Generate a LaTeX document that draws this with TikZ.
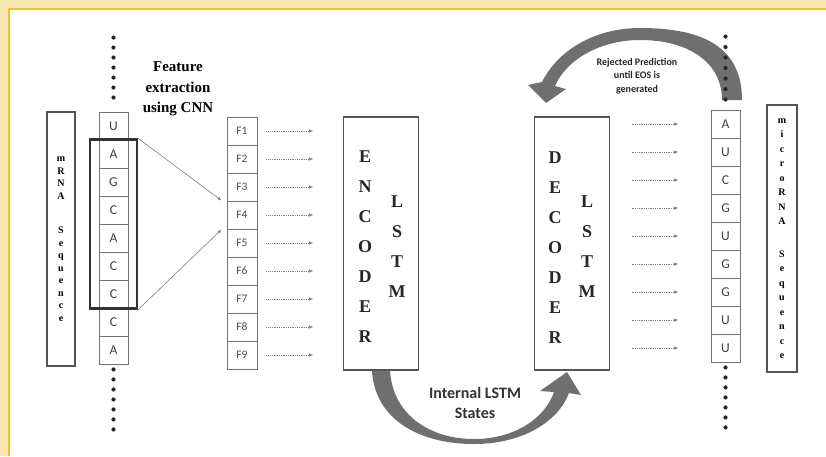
\documentclass[tikz,border=0pt]{standalone}
\usepackage{fontspec}
\setmainfont{Liberation Serif}
\newfontfamily\calibrifont{Carlito}
\usetikzlibrary{arrows.meta,fit}
\definecolor{bgyellow}{HTML}{FCE8B4}
\definecolor{rimorange}{HTML}{F6C41E}
\definecolor{boxgray}{HTML}{555555}
\definecolor{bandgray}{HTML}{6F6F6F}

\begin{document}
\begin{tikzpicture}[x=1pt,y=-1pt,
  cell/.style={draw=black!55,line width=0.9pt,minimum width=29pt,minimum height=28pt,inner sep=0pt,
    font=\calibrifont\fontsize{13.5}{14}\selectfont,text=black!75},
  fcell/.style={cell,minimum width=30pt,font=\calibrifont\fontsize{11.5}{12}\selectfont,text=black!70},
  seqbox/.style={draw=boxgray,line width=1.6pt,inner sep=0pt,align=center},
  lstmbox/.style={draw=boxgray,line width=1.6pt,minimum width=75pt,minimum height=253pt},
  bigletter/.style={inner sep=0pt,font=\bfseries\fontsize{18}{18}\selectfont,text=black!85},
  hlbox/.style={draw=black!80,line width=2.4pt},
  seqdot/.style={fill=black!85},
  dotarrow/.style={black!50,densely dotted,line width=0.8pt,-{Latex[length=4.5pt,width=3.5pt]}},
  thinarrow/.style={gray,line width=0.6pt,-{Latex[length=4pt,width=3pt]}},
  band/.style={fill=bandgray}]
   \useasboundingbox (0,0) rectangle (826,456);
   \fill[bgyellow] (0,0) rectangle (826,456);
   \fill[white] (9,9) rectangle (826,456);
   \draw[rimorange,line width=1.5pt] (9,456) -- (9,9) -- (826,9);
   \node[seqbox,minimum width=28pt,minimum height=254pt,font=\bfseries\fontsize{10}{12.5}\selectfont] (mrna) at (61,239)
     {m\\R\\N\\A\\[22pt]S\\e\\q\\u\\e\\n\\c\\e};
   \node[seqbox,minimum width=30pt,minimum height=267pt,font=\bfseries\fontsize{10}{14.5}\selectfont] (mirna) at (782,238.5)
     {m\\i\\c\\r\\o\\R\\N\\A\\[18pt]S\\e\\q\\u\\e\\n\\c\\e};
   \foreach \t [count=\i] in {U,A,G,C,A,C,C,C,A}
     \node[cell] (l\i) at (113.5,98+28*\i) {\t};
   \foreach \t [count=\i] in {A,U,C,G,U,G,G,U,U}
     \node[cell] (r\i) at (725.5,96+28*\i) {\t};
   \node[hlbox,fit=(l2)(l7),inner xsep=8.5pt,inner ysep=0pt] (hl) {};
   \node[font=\bfseries\fontsize{15}{20.5}\selectfont,align=center] (cnnlabel) at (178,89) {Feature\\extraction\\using CNN};
   \foreach \i in {1,...,9} {
     \node[fcell] (f\i) at (242,103+28*\i) {F\i};
     \draw[dotarrow] ([xshift=9pt]f\i.east) -- ([xshift=56pt]f\i.east);
     \draw[dotarrow] ([xshift=-79pt]r\i.west) -- ([xshift=-32pt]r\i.west);
   }
   \draw[thinarrow] (hl.north east) -- ([xshift=-5pt]f4.north west);
   \draw[thinarrow] (hl.south east) -- ([xshift=-5pt]f4.south west);
   \node[lstmbox] (enc) at (381,243.5) {};
   \node[lstmbox] (dec) at (572,243.5) {};
   \foreach \c [count=\i] in {E,N,C,O,D,E,R}
     \node[bigletter] (encl\i) at (365,127+30*\i) {\c};
   \foreach \c [count=\i] in {L,S,T,M}
     \node[bigletter] (encm\i) at (397,172+30*\i) {\c};
   \foreach \c [count=\i] in {D,E,C,O,D,E,R}
     \node[bigletter] (decl\i) at (555,128+30*\i) {\c};
   \foreach \c [count=\i] in {L,S,T,M}
     \node[bigletter] (decm\i) at (587,172+30*\i) {\c};
   \fill[band] (742,100) .. controls (742,45) and (700,28) .. (640,28)
     .. controls (595,28) and (558,50) .. (542,82) -- (528,85) -- (546,103) -- (566,89) -- (555,86)
     .. controls (566,60) and (600,40) .. (640,40) .. controls (688,40) and (722,62) .. (722,100) -- cycle;
   \fill[band] (372,371) .. controls (375,420) and (420,444) .. (474,444)
     .. controls (522,444) and (558,422) .. (569,393) -- (581,395) -- (567,372) -- (540,391) -- (554,392)
     .. controls (545,418) and (515,439) .. (474,439) .. controls (430,439) and (393,415) .. (390,371) -- cycle;
   \node[font=\calibrifont\bfseries\fontsize{10}{13.5}\selectfont,align=center,text=black!85] (rejlabel) at (637,76)
     {Rejected Prediction\\until EOS is\\generated};
   \node[font=\calibrifont\bfseries\fontsize{16}{20}\selectfont,align=center,text=black!80] (statelabel) at (475,403)
     {Internal LSTM\\States};
   \foreach \k in {0,...,6} {
     \fill[seqdot] ([yshift={14+10*\k}]l1.north) circle (2.1pt);
     \fill[seqdot] ([yshift={-5-10*\k}]l9.south) circle (2.1pt);
     \fill[seqdot] ([yshift={10+10.5*\k}]r1.north) circle (2.1pt);
     \fill[seqdot] ([yshift={-5-10*\k}]r9.south) circle (2.1pt);
   }
\end{tikzpicture}
\end{document}
